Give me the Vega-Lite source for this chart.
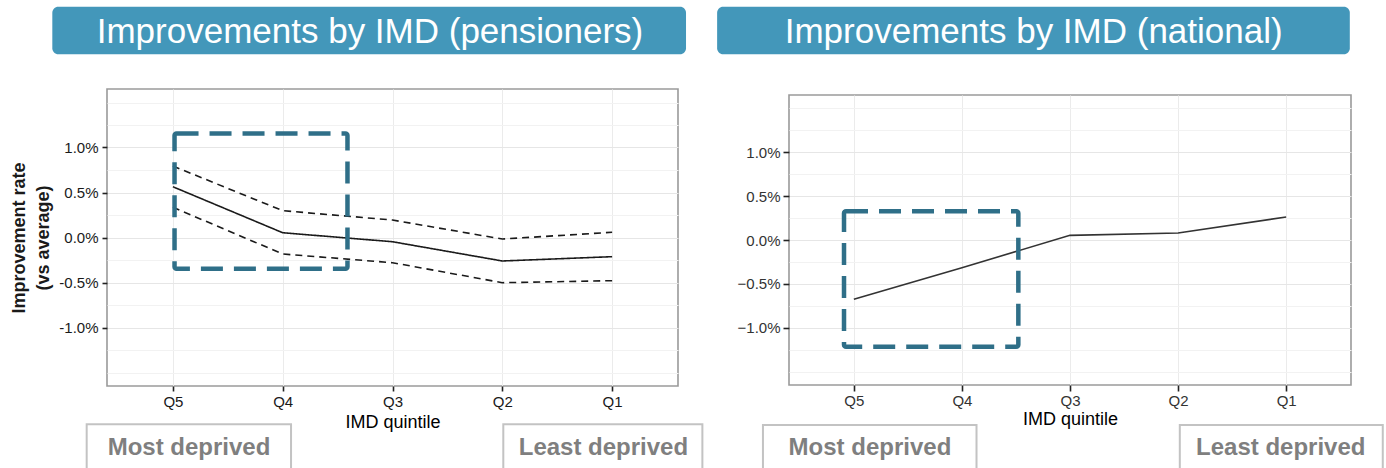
{
  "$schema": "https://vega.github.io/schema/vega-lite/v6.json",
  "autosize": {"type": "none"},
  "padding": {"left": 107, "top": 89, "right": 1279, "bottom": 379},
  "background": "white",
  "spacing": 111,
  "bounds": "flush",
  "datasets": {
    "pens": [
      {"quintile": "Q5", "series": "Estimate", "rate": 0.00564},
      {"quintile": "Q4", "series": "Estimate", "rate": 0.00053},
      {"quintile": "Q3", "series": "Estimate", "rate": -0.00047},
      {"quintile": "Q2", "series": "Estimate", "rate": -0.00261},
      {"quintile": "Q1", "series": "Estimate", "rate": -0.00213},
      {"quintile": "Q5", "series": "Upper", "rate": 0.00794},
      {"quintile": "Q4", "series": "Upper", "rate": 0.00298},
      {"quintile": "Q3", "series": "Upper", "rate": 0.00194},
      {"quintile": "Q2", "series": "Upper", "rate": -0.00017},
      {"quintile": "Q1", "series": "Upper", "rate": 0.00058},
      {"quintile": "Q5", "series": "Lower", "rate": 0.00336},
      {"quintile": "Q4", "series": "Lower", "rate": -0.00183},
      {"quintile": "Q3", "series": "Lower", "rate": -0.0028},
      {"quintile": "Q2", "series": "Lower", "rate": -0.00502},
      {"quintile": "Q1", "series": "Lower", "rate": -0.0048}
    ],
    "nat": [
      {"quintile": "Q5", "rate": -0.00675},
      {"quintile": "Q4", "rate": -0.00315},
      {"quintile": "Q3", "rate": 0.00053},
      {"quintile": "Q2", "rate": 0.0008},
      {"quintile": "Q1", "rate": 0.00262}
    ],
    "leftTitle": [{"x": -0.098, "x2": 5.673, "y": 0.02564, "y2": 0.02036, "tx": 2.795, "ty": 0.02158, "label": "Improvements by IMD (pensioners)"}],
    "rightTitle": [{"x": -0.265, "x2": 5.589, "y": 0.02655, "y2": 0.02113, "tx": 2.664, "ty": 0.02238, "label": "Improvements by IMD (national)"}],
    "leftBoxes": [
      {"x": 0.215, "x2": 2.076, "y": -0.02076, "y2": -0.0275, "tx": 1.147, "ty": -0.02417, "label": "Most deprived"},
      {"x": 4.009, "x2": 5.822, "y": -0.02076, "y2": -0.0275, "tx": 4.921, "ty": -0.02417, "label": "Least deprived"}
    ],
    "rightBoxes": [
      {"x": 0.159, "x2": 2.135, "y": -0.02105, "y2": -0.0285, "tx": 1.149, "ty": -0.02447, "label": "Most deprived"},
      {"x": 4.016, "x2": 5.894, "y": -0.02105, "y2": -0.0285, "tx": 4.95, "ty": -0.02447, "label": "Least deprived"}
    ],
    "leftFocus": [{"x": 1.015, "x2": 2.59, "y": 0.01156, "y2": -0.00348}],
    "rightFocus": [{"x": 0.909, "x2": 2.522, "y": 0.00327, "y2": -0.01214}]
  },
  "hconcat": [
    {
      "width": 571,
      "height": 297,
      "resolve": {"scale": {"x": "independent"}, "axis": {"y": "independent"}},
      "layer": [
        {
          "data": {"name": "pens"},
          "mark": {"type": "line", "color": "#1a1a1a", "strokeWidth": 1.6},
          "encoding": {
            "x": {"field": "quintile", "type": "ordinal", "scale": {"type": "point", "domain": ["Q5", "Q4", "Q3", "Q2", "Q1"], "padding": 0.6},
              "axis": {"title": "IMD quintile", "labelAngle": 0, "grid": true, "gridColor": "#ebebeb", "domain": false, "tickColor": "#222", "tickSize": 5, "tickWidth": 1.6, "labelPadding": 3, "labelFontSize": 15, "labelColor": "#1a1a1a", "titleFontSize": 18, "titleFontWeight": "normal", "titleColor": "#000", "titlePadding": 4}},
            "y": {"field": "rate", "type": "quantitative", "scale": {"domain": [-0.0165, 0.0165]},
              "axis": {
                "values": [-0.015, -0.0125, -0.01, -0.0075, -0.005, -0.0025, 0, 0.0025, 0.005, 0.0075, 0.01, 0.0125, 0.015],
                "labelExpr": "(abs(datum.value)<0.0101 && abs(datum.value*200-round(datum.value*200))<0.01) ? replace(format(datum.value,'.1%'),'\u2212','-') : ''",
                "tickOpacity": {"condition": {"test": "abs(datum.value)<0.0101 && abs(datum.value*200-round(datum.value*200))<0.01", "value": 1}, "value": 0},
                "gridColor": {"condition": {"test": "abs(datum.value)<0.0101 && abs(datum.value*200-round(datum.value*200))<0.01", "value": "#e6e6e6"}, "value": "#f2f2f2"},
                "grid": true, "domain": false, "labelOverlap": false, "tickColor": "#222", "tickSize": 5, "tickWidth": 1.6, "labelPadding": 4, "labelFontSize": 15, "labelColor": "#1a1a1a",
                "title": ["Improvement rate", "(vs average)"], "titleFontSize": 18, "titleFontWeight": "bold", "titleColor": "#1a1a1a", "titleLineHeight": 24, "titlePadding": 6
              }},
            "strokeDash": {"field": "series", "type": "nominal", "scale": {"domain": ["Estimate", "Upper", "Lower"], "range": [[1, 0], [7, 5], [7, 5]]}, "legend": null}
          }
        },
        {
          "data": {"name": "leftTitle"},
          "mark": {"type": "rect", "color": "#4397ba", "cornerRadius": 6, "clip": false},
          "encoding": {
            "x": {"field": "x", "type": "quantitative", "scale": {"domain": [0.4, 5.6]}, "axis": null},
            "x2": {"field": "x2"},
            "y": {"field": "y", "type": "quantitative", "scale": {"domain": [-0.0165, 0.0165]}, "axis": null},
            "y2": {"field": "y2"}
          }
        },
        {
          "data": {"name": "leftTitle"},
          "mark": {"type": "text", "color": "white", "fontSize": 35, "align": "center", "baseline": "alphabetic", "clip": false},
          "encoding": {
            "x": {"field": "tx", "type": "quantitative", "scale": {"domain": [0.4, 5.6]}, "axis": null},
            "y": {"field": "ty", "type": "quantitative", "scale": {"domain": [-0.0165, 0.0165]}, "axis": null},
            "text": {"field": "label"}
          }
        },
        {
          "data": {"name": "leftBoxes"},
          "mark": {"type": "rect", "fill": "white", "stroke": "#c3c3c3", "strokeWidth": 2, "clip": false},
          "encoding": {
            "x": {"field": "x", "type": "quantitative", "scale": {"domain": [0.4, 5.6]}, "axis": null},
            "x2": {"field": "x2"},
            "y": {"field": "y", "type": "quantitative", "scale": {"domain": [-0.0165, 0.0165]}, "axis": null},
            "y2": {"field": "y2"}
          }
        },
        {
          "data": {"name": "leftBoxes"},
          "mark": {"type": "text", "color": "#7f7f7f", "fontSize": 24, "fontWeight": "bold", "align": "center", "baseline": "alphabetic", "clip": false},
          "encoding": {
            "x": {"field": "tx", "type": "quantitative", "scale": {"domain": [0.4, 5.6]}, "axis": null},
            "y": {"field": "ty", "type": "quantitative", "scale": {"domain": [-0.0165, 0.0165]}, "axis": null},
            "text": {"field": "label"}
          }
        },
        {
          "data": {"name": "leftFocus"},
          "mark": {"type": "rect", "fill": null, "fillOpacity": 0, "stroke": "#2f6f88", "strokeWidth": 4.5, "strokeDash": [22, 11], "cornerRadius": 2, "clip": false},
          "encoding": {
            "x": {"field": "x", "type": "quantitative", "scale": {"domain": [0.4, 5.6]}, "axis": null},
            "x2": {"field": "x2"},
            "y": {"field": "y", "type": "quantitative", "scale": {"domain": [-0.0165, 0.0165]}, "axis": null},
            "y2": {"field": "y2"}
          }
        }
      ]
    },
    {
      "vconcat": [
        {
          "width": 1,
          "height": 1,
          "data": {"values": []},
          "mark": {"type": "point", "opacity": 0},
          "view": {"stroke": null}
        },
        {
          "width": 562,
          "height": 290,
          "resolve": {"scale": {"x": "independent"}, "axis": {"y": "independent"}},
          "layer": [
            {
              "data": {"name": "nat"},
              "mark": {"type": "line", "color": "#333333", "strokeWidth": 1.6},
              "encoding": {
                "x": {"field": "quintile", "type": "ordinal", "scale": {"type": "point", "domain": ["Q5", "Q4", "Q3", "Q2", "Q1"], "padding": 0.6},
                  "axis": {"title": "IMD quintile", "labelAngle": 0, "grid": true, "gridColor": "#ebebeb", "domain": false, "tickColor": "#222", "tickSize": 6, "tickWidth": 1.6, "labelPadding": 2, "labelFontSize": 15, "labelColor": "#333", "titleFontSize": 18, "titleFontWeight": "normal", "titleColor": "#000", "titlePadding": 2}},
                "y": {"field": "rate", "type": "quantitative", "scale": {"domain": [-0.0165, 0.0165]},
                  "axis": {
                    "values": [-0.015, -0.0125, -0.01, -0.0075, -0.005, -0.0025, 0, 0.0025, 0.005, 0.0075, 0.01, 0.0125, 0.015],
                    "labelExpr": "(abs(datum.value)<0.0101 && abs(datum.value*200-round(datum.value*200))<0.01) ? format(datum.value,'.1%') : ''",
                    "tickOpacity": {"condition": {"test": "abs(datum.value)<0.0101 && abs(datum.value*200-round(datum.value*200))<0.01", "value": 1}, "value": 0},
                    "gridColor": {"condition": {"test": "abs(datum.value)<0.0101 && abs(datum.value*200-round(datum.value*200))<0.01", "value": "#e6e6e6"}, "value": "#f2f2f2"},
                    "grid": true, "domain": false, "labelOverlap": false, "tickColor": "#222", "tickSize": 6, "tickWidth": 1.6, "labelPadding": 3, "labelFontSize": 15, "labelColor": "#333",
                    "title": null
                  }}
              }
            },
            {
              "data": {"name": "rightTitle"},
              "mark": {"type": "rect", "color": "#4397ba", "cornerRadius": 6, "clip": false},
              "encoding": {
                "x": {"field": "x", "type": "quantitative", "scale": {"domain": [0.4, 5.6]}, "axis": null},
                "x2": {"field": "x2"},
                "y": {"field": "y", "type": "quantitative", "scale": {"domain": [-0.0165, 0.0165]}, "axis": null},
                "y2": {"field": "y2"}
              }
            },
            {
              "data": {"name": "rightTitle"},
              "mark": {"type": "text", "color": "white", "fontSize": 35, "align": "center", "baseline": "alphabetic", "clip": false},
              "encoding": {
                "x": {"field": "tx", "type": "quantitative", "scale": {"domain": [0.4, 5.6]}, "axis": null},
                "y": {"field": "ty", "type": "quantitative", "scale": {"domain": [-0.0165, 0.0165]}, "axis": null},
                "text": {"field": "label"}
              }
            },
            {
              "data": {"name": "rightBoxes"},
              "mark": {"type": "rect", "fill": "white", "stroke": "#c3c3c3", "strokeWidth": 2, "clip": false},
              "encoding": {
                "x": {"field": "x", "type": "quantitative", "scale": {"domain": [0.4, 5.6]}, "axis": null},
                "x2": {"field": "x2"},
                "y": {"field": "y", "type": "quantitative", "scale": {"domain": [-0.0165, 0.0165]}, "axis": null},
                "y2": {"field": "y2"}
              }
            },
            {
              "data": {"name": "rightBoxes"},
              "mark": {"type": "text", "color": "#7f7f7f", "fontSize": 24, "fontWeight": "bold", "align": "center", "baseline": "alphabetic", "clip": false},
              "encoding": {
                "x": {"field": "tx", "type": "quantitative", "scale": {"domain": [0.4, 5.6]}, "axis": null},
                "y": {"field": "ty", "type": "quantitative", "scale": {"domain": [-0.0165, 0.0165]}, "axis": null},
                "text": {"field": "label"}
              }
            },
            {
              "data": {"name": "rightFocus"},
              "mark": {"type": "rect", "fill": null, "fillOpacity": 0, "stroke": "#2f6f88", "strokeWidth": 4.5, "strokeDash": [22, 11], "cornerRadius": 2, "clip": false},
              "encoding": {
                "x": {"field": "x", "type": "quantitative", "scale": {"domain": [0.4, 5.6]}, "axis": null},
                "x2": {"field": "x2"},
                "y": {"field": "y", "type": "quantitative", "scale": {"domain": [-0.0165, 0.0165]}, "axis": null},
                "y2": {"field": "y2"}
              }
            }
          ]
        }
      ],
      "spacing": 5,
      "bounds": "flush"
    }
  ],
  "config": {
    "font": "Liberation Sans",
    "view": {"stroke": "#9a9a9a", "strokeWidth": 1.6},
    "axis": {"labelFont": "Liberation Sans", "titleFont": "Liberation Sans"}
  }
}
